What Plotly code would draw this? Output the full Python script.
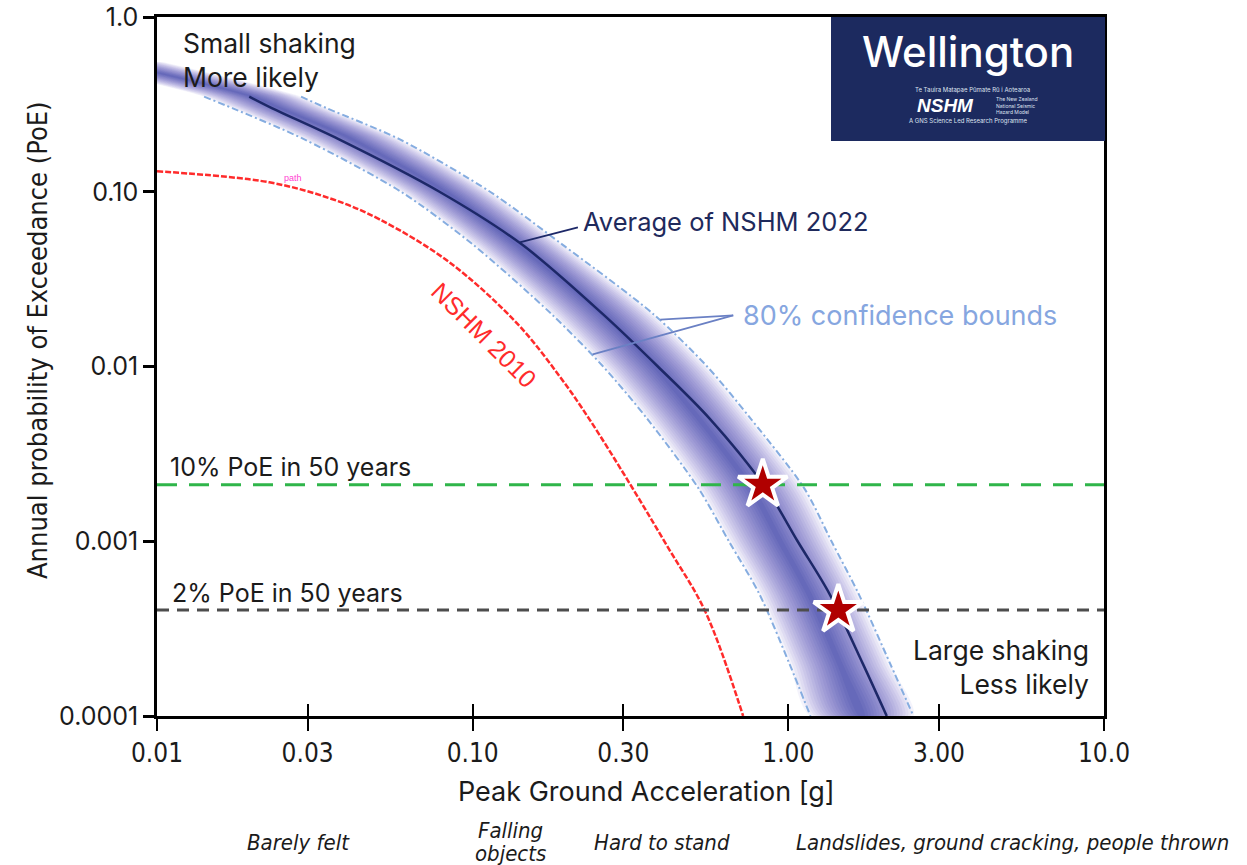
import numpy as np
import plotly.graph_objects as go

# ---- axes -----------------------------------------------------------------
X_RANGE = (0.01, 10.0)
Y_RANGE = (0.0001, 1.0)
X_TICKS = [0.01, 0.03, 0.1, 0.3, 1.0, 3.0, 10.0]
X_TICK_TEXT = ["0.01", "0.03", "0.10", "0.30", "1.00", "3.00", "10.0"]
Y_TICKS = [0.0001, 0.001, 0.01, 0.1, 1.0]
Y_TICK_TEXT = ["0.0001", "0.001", "0.01", "0.10", "1.0"]

# ---- NSHM 2022 hazard curve (PGA in g at each annual PoE) ------------------
POE_LEVELS = [0.55, 0.35, 0.3, 0.2, 0.1, 0.05, 0.02, 0.01, 0.005, 0.002,
              0.001, 0.0005, 0.0002, 0.0001]
PGA_MEAN_2022 = [0.0075, 0.0196, 0.0232, 0.0376, 0.0785, 0.143, 0.258, 0.386,
                 0.565, 0.851, 1.07, 1.35, 1.72, 2.05]
PGA_LOW_2022 = [0.0050, 0.0141, 0.0174, 0.0292, 0.0593, 0.100, 0.1775, 0.259,
                0.358, 0.520, 0.648, 0.809, 1.007, 1.175]
PGA_HIGH_2022 = [0.0105, 0.0286, 0.0346, 0.0586, 0.1135, 0.192, 0.373, 0.553,
                 0.762, 1.125, 1.37, 1.67, 2.10, 2.49]

# ---- NSHM 2010 hazard curve ------------------------------------------------
PGA_2010 = [0.01, 0.0227, 0.036, 0.0507, 0.0845, 0.138, 0.189, 0.235, 0.320,
            0.413, 0.546, 0.719]
POE_2010 = [0.131, 0.1132, 0.0906, 0.0695, 0.0394, 0.0177, 0.00874, 0.00495,
            0.00203, 0.00094, 0.000395, 0.0001]

# ---- design levels ---------------------------------------------------------
DESIGN_LABELS = ["10% PoE in 50 years", "2% PoE in 50 years"]
DESIGN_POE = [1 / 475, 1 / 2475]
DESIGN_PGA = [0.83, 1.44]

# ---- shaking descriptions under the PGA axis --------------------------------
SHAKING_TEXT = ["Barely felt", "Falling", "objects", "Hard to stand",
                "Landslides, ground cracking, people thrown"]

FONT_MAIN = "Inter, 'Noto Sans', sans-serif"
FONT_NARROW = ("'Liberation Sans Narrow', 'DejaVu Sans Condensed', "
               "'Roboto Condensed', 'Liberation Sans', sans-serif")
FONT_ARIAL = "'Liberation Sans', Arial, sans-serif"

# plot-area geometry in pixels (used to place annotations)
W, H = 1247, 865
L, R, T, B = 157, 143, 17, 149
PW, PH = W - L - R, H - T - B


def px(x):
    return (x - L) / PW


def py(y):
    return (H - B - y) / PH


fig = go.Figure()

# gradient band between the confidence bounds
lo = np.log10(PGA_LOW_2022)
hi = np.log10(PGA_HIGH_2022)
mid = (lo + hi) / 2
n_layers = 18
poe_loop = POE_LEVELS + POE_LEVELS[::-1]
for k in range(n_layers):
    f = 1 - k / n_layers
    xl = 10 ** (mid - f * (mid - lo))
    xh = 10 ** (mid + f * (hi - mid))
    t = k / (n_layers - 1)
    r = int(150 - 100 * t)
    g = int(140 - 82 * t)
    b = int(215 - 55 * t)
    fig.add_trace(go.Scatter(
        x=np.concatenate([xl, xh[::-1]]), y=poe_loop, mode="lines",
        fill="toself", fillcolor=f"rgba({r},{g},{b},0.105)",
        line=dict(width=0, shape="spline", smoothing=0.8),
        hoverinfo="skip", showlegend=False))

# confidence bounds
for arr in (PGA_LOW_2022, PGA_HIGH_2022):
    fig.add_trace(go.Scatter(
        x=arr[1:], y=POE_LEVELS[1:], mode="lines",
        line=dict(color="#86ade0", width=2, dash="7px,3px,2px,3px",
                  shape="spline", smoothing=0.8),
        hoverinfo="skip", showlegend=False))

# mean 2022 curve
fig.add_trace(go.Scatter(
    x=PGA_MEAN_2022[1:], y=POE_LEVELS[1:], mode="lines",
    line=dict(color="#1d2868", width=2.5, shape="spline", smoothing=0.9),
    hoverinfo="skip", showlegend=False))

# 2010 curve
fig.add_trace(go.Scatter(
    x=PGA_2010, y=POE_2010, mode="lines",
    line=dict(color="#ff2b2b", width=2.5, dash="6px,2px", shape="spline",
              smoothing=1.0),
    hoverinfo="skip", showlegend=False))

# design level lines
for poe, col, dash in zip(DESIGN_POE, ["#2fb54a", "#4d4d4d"],
                          ["20px,12px", "12px,8px"]):
    fig.add_trace(go.Scatter(
        x=list(X_RANGE), y=[poe, poe], mode="lines",
        line=dict(color=col, width=3, dash=dash),
        hoverinfo="skip", showlegend=False))

# leader lines for the curve labels
LEADERS = [
    ([0.141, 0.2155], [0.0514, 0.0626], "#1d2868"),
    ([0.393, 0.669], [0.01857, 0.0196], "#6a80c4"),
    ([0.240, 0.669], [0.01172, 0.0196], "#6a80c4"),
]
for lx, ly, col in LEADERS:
    fig.add_trace(go.Scatter(x=lx, y=ly, mode="lines",
                             line=dict(color=col, width=1.8),
                             hoverinfo="skip", showlegend=False))

# design points on the mean curve
fig.add_trace(go.Scatter(
    x=DESIGN_PGA, y=DESIGN_POE, mode="markers",
    marker=dict(symbol="star", size=37, color="#b00000",
                line=dict(color="white", width=4)),
    hoverinfo="skip", showlegend=False))

# empty trace that carries the inward half of the PGA ticks
fig.add_trace(go.Scatter(x=[], y=[], xaxis="x2", yaxis="y",
                         showlegend=False, hoverinfo="skip"))

ann = []


def text(x, y, s, size=24, color="#1b1b1b", family=FONT_MAIN, xa="left",
         ya="middle", weight=None, style=None, **kw):
    font = dict(size=size, color=color, family=family)
    if weight:
        font["weight"] = weight
    if style:
        font["style"] = style
    ann.append(dict(x=px(x), y=py(y), xref="paper", yref="paper", text=s,
                    showarrow=False, xanchor=xa, yanchor=ya, font=font, **kw))


text(181, 60, "Small shaking<br>More likely", size=26.5, align="left")
text(1091, 667, "Large shaking<br>Less likely", size=26.5, xa="right",
     align="right")
text(581, 221, "Average of NSHM 2022", size=25.5, color="#1f2a5c")
text(741, 316, "80% confidence bounds", size=27, color="#86a6e0")
text(484, 335, "NSHM 2010", size=25, color="#ff2b2b", family=FONT_ARIAL,
     xa="center", textangle=45)
text(293, 178, "path", size=9, color="#ff3fd2", family=FONT_ARIAL,
     xa="center")
text(168, 467, DESIGN_LABELS[0], size=25)
text(170, 593, DESIGN_LABELS[1], size=25)

# axis titles
text(646, 791, "Peak Ground Acceleration [g]", size=27, xa="center")
text(37, 340, "Annual probability of Exceedance (PoE)", size=27,
     family=FONT_NARROW, xa="center", textangle=-90)

# shaking descriptions
for s, xc, yc in zip(SHAKING_TEXT, [298, 510, 510, 662, 1012],
                     [842, 830, 853, 842, 842]):
    text(xc, yc, s, size=22, family=FONT_NARROW, xa="center", style="italic")

# title badge
text(968, 52, "Wellington", size=42, color="white", xa="center", weight=500)
text(972, 90, "Te Tauira Matapae Pūmate Rū i Aotearoa", size=6,
     color="#dfe3f0", xa="center")
text(945, 106, "<i>NSHM</i>", size=19, color="white", family=FONT_ARIAL,
     xa="center", weight=800)
text(994, 106, "The New Zealand<br>National Seismic<br>Hazard Model", size=5,
     color="#dfe3f0", align="left")
text(968, 121, "A GNS Science Led Research Programme", size=6,
     color="#dfe3f0", xa="center")

fig.update_layout(
    width=W, height=H,
    margin=dict(l=L, r=R, t=T, b=B, autoexpand=False),
    paper_bgcolor="white", plot_bgcolor="white",
    showlegend=False,
    annotations=ann,
    shapes=[dict(type="rect", xref="paper", yref="paper",
                 x0=px(831), x1=px(1105), y0=py(141), y1=py(17),
                 fillcolor="#1c2a5f", line=dict(width=0), layer="above")],
    xaxis=dict(type="log", range=[np.log10(X_RANGE[0]), np.log10(X_RANGE[1])],
               tickvals=X_TICKS, ticktext=X_TICK_TEXT, ticks="outside",
               ticklen=12, tickwidth=2, tickcolor="black", showline=True,
               linecolor="black", linewidth=2.5, mirror=True, showgrid=False,
               zeroline=False, automargin=False,
               tickfont=dict(size=26, color="#1b1b1b", family=FONT_NARROW)),
    xaxis2=dict(type="log", overlaying="x", anchor="y",
                range=[np.log10(X_RANGE[0]), np.log10(X_RANGE[1])],
                tickvals=X_TICKS, ticks="inside", ticklen=12, tickwidth=2,
                tickcolor="black", showticklabels=False, showline=False,
                showgrid=False, zeroline=False, automargin=False),
    yaxis=dict(type="log", range=[np.log10(Y_RANGE[0]), np.log10(Y_RANGE[1])],
               tickvals=Y_TICKS, ticktext=Y_TICK_TEXT, ticks="outside",
               ticklen=11, tickwidth=2.5, tickcolor="black", showline=True,
               linecolor="black", linewidth=2.5, mirror=True, showgrid=False,
               zeroline=False, automargin=False,
               tickfont=dict(size=25, color="#1b1b1b", family=FONT_MAIN)),
)

fig.write_html("out.html")
